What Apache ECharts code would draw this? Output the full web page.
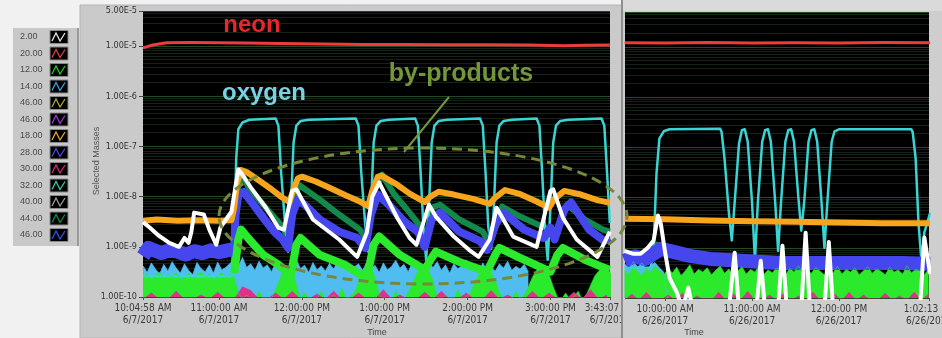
<!DOCTYPE html>
<html><head><meta charset="utf-8">
<script src="https://cdn.jsdelivr.net/npm/echarts@6/dist/echarts.min.js"></script>
<style>html,body{margin:0;padding:0;background:#f1f1f1;}#c{width:942px;height:338px;}</style>
</head><body><div id="c"></div>
<script>
// ---------------- data ----------------
const legendLabels = ["2.00","20.00","12.00","14.00","46.00","46.00","18.00","28.00","30.00","32.00","40.00","44.00","46.00"];
const legendColors = ["#e6e6e6","#e03a3a","#22cc22","#3aa0e6","#a8a832","#9a3ad6","#e6a326","#4848d8","#d8287a","#34c8a8","#9a9a9a","#138a4c","#2458e6"];

const leftStart = "10:04:58", leftEnd = "15:43:07", leftDate = "6/7/2017";
const rightStart = "9:32:15", rightEnd = "13:02:13", rightDate = "6/26/2017";
const leftTicks = [leftStart, "11:00:00", "12:00:00", "13:00:00", "14:00:00", "15:00:00", leftEnd];
const rightTicks = ["10:00:00", "11:00:00", "12:00:00", rightEnd];
const yTicks = [1e-10, 1e-9, 1e-8, 1e-7, 1e-6, 1e-5, 5e-5];

// left panel (6/7/2017)
const neonL = [["10:05",9.2e-6],["10:12",1.05e-5],["10:22",1.17e-5],["10:40",1.18e-5],["11:00",1.17e-5],["11:20",1.15e-5],["11:45",1.12e-5],["12:15",1.1e-5],["12:45",1.08e-5],["13:15",1.07e-5],["13:45",1.06e-5],["14:15",1.06e-5],["14:45",1.05e-5],["15:10",1.02e-5],["15:25",1.04e-5],["15:43",1.05e-5]];
const oxygenL = [["10:05",2.6e-10],["11:09",2.6e-10],["11:11",2e-9],["11:12:30",6e-8],["11:14",2.2e-7],["11:17",3e-7],["11:22",3.4e-7],["11:41",3.6e-7],["11:43",2.6e-7],["11:45",3e-8],["11:48",2.5e-9],["11:50",8e-10],
 ["11:52",6e-9],["11:54",1.2e-7],["11:56",2.6e-7],["11:59",3.2e-7],["12:05",3.4e-7],["12:39",3.6e-7],["12:41",2.6e-7],["12:43",3e-8],["12:46",2.5e-9],["12:48",8e-10],
 ["12:50",6e-9],["12:52",1.2e-7],["12:54",2.6e-7],["12:57",3.2e-7],["13:03",3.4e-7],["13:22",3.6e-7],["13:24",2.6e-7],["13:26",3e-8],["13:28",2.5e-9],["13:30",5.5e-10],
 ["13:32",6e-9],["13:34",1.2e-7],["13:36",2.6e-7],["13:39",3.2e-7],["13:45",3.4e-7],["14:09",3.6e-7],["14:11",2.6e-7],["14:13",3e-8],["14:15",2.5e-9],["14:17",9e-10],
 ["14:19",6e-9],["14:21",1.2e-7],["14:23",2.6e-7],["14:26",3.2e-7],["14:32",3.4e-7],["14:50",3.6e-7],["14:52",2.6e-7],["14:54",3e-8],["14:56",2.5e-9],["14:58",5.5e-10],
 ["15:00",6e-9],["15:02",1.2e-7],["15:04",2.6e-7],["15:07",3.2e-7],["15:13",3.4e-7],["15:37",3.6e-7],["15:39",2.6e-7],["15:41",3e-8],["15:43",3e-9]];
const orangeL = [["10:05",3.3e-9],["10:15",3.5e-9],["10:30",3.3e-9],["10:45",3.4e-9],["11:00",3.3e-9],["11:09",3.4e-9],["11:11",6e-9],["11:13",1.8e-8],["11:16",3.4e-8],["11:20",3.1e-8],["11:28",2.2e-8],["11:38",1.4e-8],["11:46",9.5e-9],["11:51",7.8e-9],["11:54",1.4e-8],["11:57",2.3e-8],["12:00",2.5e-8],["12:10",2e-8],["12:20",1.5e-8],["12:32",1.05e-8],["12:42",8e-9],["12:48",6.5e-9],["12:51",1.3e-8],["12:55",2.5e-8],["12:58",2.6e-8],["13:08",1.8e-8],["13:18",1.15e-8],["13:29",7.8e-9],["13:33",1e-8],["13:39",1.25e-8],["13:50",1.1e-8],["14:04",9e-9],["14:16",7.2e-9],["14:20",9.5e-9],["14:27",1.35e-8],["14:37",1.15e-8],["14:50",8e-9],["14:59",6e-9],["15:03",9e-9],["15:10",1.3e-8],["15:22",1.1e-8],["15:34",8.5e-9],["15:43",7.5e-9]];
const whiteL = [["10:05",3.1e-9],["10:10",2.4e-9],["10:16",1.7e-9],["10:24",1.2e-9],["10:31",1e-9],["10:35",1.5e-9],["10:38",1.2e-9],["10:40",2e-9],["10:42",4.8e-9],["10:49",4.4e-9],["10:53",2.2e-9],["10:58",1.1e-9],["11:01",2.4e-9],["11:05",3.5e-9],["11:09",5e-9],["11:11",1.1e-8],["11:14",3.5e-8],["11:17",2.7e-8],["11:24",1.4e-8],["11:34",6e-9],["11:43",2.4e-9],["11:47",2.2e-9],["11:53",1.3e-8],["11:56",1.4e-8],["12:08",3.5e-9],["12:27",1.4e-9],["12:40",6.3e-10],["12:47",1.9e-9],["12:51",1e-8],["12:56",1.9e-8],["13:09",3.8e-9],["13:18",1.5e-9],["13:23",1.1e-9],["13:32",6.9e-9],["13:37",4e-9],["13:50",1.6e-9],["14:01",8.7e-10],["14:08",6.3e-10],["14:16",1.4e-9],["14:21",6e-9],["14:33",1.6e-9],["14:50",1e-9],["15:00",1.3e-8],["15:02",1.4e-8],["15:09",3.8e-9],["15:19",1.4e-9],["15:34",6.3e-10],["15:43",2e-9]];
const bluePreL = [["10:05",6.5e-10],["10:09",9.5e-10],["10:13",8.5e-10],["10:18",7.5e-10],["10:24",8.5e-10],["10:30",8e-10],["10:36",7e-10],["10:42",8.2e-10],["10:48",7.5e-10],["10:54",8.5e-10],["11:00",7.8e-10],["11:06",8.5e-10],["11:11",9e-10]];
const blueL = [["11:11",9e-10],["11:12",4.4e-9],["11:14",1.1e-8],["11:18",1.25e-8],["11:25",6.9e-9],["11:33",3.5e-9],["11:40",2e-9],["11:46",1.4e-9],["11:50",9.5e-10],["11:53",4.4e-9],["11:57",8.7e-9],["12:02",6.9e-9],["12:13",3.5e-9],["12:27",2e-9],["12:40",1.5e-9],["12:46",9.5e-10],["12:50",4.4e-9],["12:55",1.1e-8],["13:03",6.9e-9],["13:14",3.2e-9],["13:24",2e-9],["13:29",1e-9],["13:34",3.5e-9],["13:40",4.8e-9],["13:54",2e-9],["14:09",1.3e-9],["14:14",8.7e-10],["14:20",2.75e-9],["14:26",4.8e-9],["14:41",2.2e-9],["14:55",1.5e-9],["15:00",2.4e-9],["15:03",1.4e-9],["15:10",5.5e-9],["15:15",7.6e-9],["15:28",2.2e-9],["15:39",1.3e-9],["15:43",1.5e-9]];
const darkGreenL = [["11:11",2.2e-9],["11:14",1.7e-8],["11:17",2.75e-8],["11:21",1.6e-8],["11:32",6.9e-9],["11:46",2.5e-9],["11:50",1.5e-9],["11:54",8.7e-9],["11:58",1.7e-8],["12:13",8.7e-9],["12:27",4.4e-9],["12:42",2.2e-9],["12:47",1.4e-9],["12:53",1.4e-8],["12:58",2.75e-8],["13:07",1.1e-8],["13:18",4.8e-9],["13:25",2.75e-9],["13:30",1.4e-9],["13:34",6e-9],["13:40",6.9e-9],["13:54",3.5e-9],["14:11",2e-9],["14:16",1.1e-9],["14:25",6.3e-9],["14:38",4e-9],["14:59",2.2e-9],["15:03",1.4e-9],["15:12",6.9e-9],["15:25",3.5e-9],["15:38",2.2e-9],["15:43",2e-9]];
const greenL = [["11:11",3e-10],["11:12",4.8e-10],["11:14",1.4e-9],["11:16",2.2e-9],["11:21",1.5e-9],["11:32",6.9e-10],["11:43",4.4e-10],["11:52",2.75e-10],["11:56",1.1e-9],["11:59",1.5e-9],["12:13",6.9e-10],["12:31",4.4e-10],["12:47",2.3e-10],["12:52",1.1e-9],["12:56",1.6e-9],["13:11",6.9e-10],["13:29",3.5e-10],["13:34",6e-10],["13:37",8e-10],["13:54",5e-10],["14:14",3.2e-10],["14:20",6.9e-10],["14:23",9.5e-10],["14:38",6e-10],["15:00",3.2e-10],["15:05",6.9e-10],["15:09",9.5e-10],["15:25",5.5e-10],["15:39",3.8e-10],["15:43",3.5e-10]];
// noise bands, sampled every few minutes (units of 1e-10)
const noiseUnit = 1e-10;
const lightBlueL = {start:"10:05", step:3, v:[4.2,3.1,4.8,3.6,2.9,4.5,3.3,5.1,3.8,3.0, 4.6,3.4,2.8,4.9,3.7,3.2,4.4,3.0,5.0,3.5, 3.9,4.7,
 5.8,4.1,6.2,3.9,4.6,3.4,5.2,3.8,4.4,3.2, 4.8,3.6,4.1,3.0,4.5,5.6,3.7,4.3,3.1,4.9, 3.5,4.2,3.3,4.7,3.6,5.3,3.9,4.4,3.2,4.0,
 4.6,3.4,5.0,3.7,4.3,3.1,4.8,3.5,4.1,5.4, 3.8,4.5,3.2,4.9,3.6,4.2,3.3,4.7,3.9,5.1, 3.4,4.4,3.0,4.6,3.7,4.2,5.5,3.6,4.3,3.2,
 4.8,3.5,4.0,3.3,4.6,3.8,5.2,3.4,4.1,3.6, 4.5,3.2]};
const greenAreaL = {start:"10:05", step:3, v:[2.4,2.9,2.2,2.7,3.1,2.3,2.8,2.5,3.0,2.2,2.6,2.9,2.3,2.7,3.2,2.4,2.8,2.2,2.6,3.0,2.5,2.8,2.4,
 1.2,0.9,1.1,0.9,0.9,1.3,0.9,1.0,0.9,1.4, 2.2,3.5,4.2,3.1,1.8,0.9,1.2,0.9,1.0,0.9, 1.3,0.9,0.9,1.1,0.9,1.5,0.9,1.0,1.2,2.0,
 3.3,4.5,3.8,2.4,1.1,0.9,1.0,0.9,1.3,0.9, 0.9,1.2,1.8,2.9,3.9,4.4,3.2,2.1,1.0,0.9, 1.1,0.9,0.9,1.4,0.9,1.0,1.2,1.9,2.8,3.6,
 4.1,3.0,2.2,1.2,0.9,1.0,0.9,1.3,0.9,1.1, 1.6,2.5,3.4,4.3,3.9,2.8,1.6,1.0,0.9,1.2, 0.9,1.0,1.3,0.9,1.1,1.7,2.6,3.3,4.0,3.6,2.9]};
const magentaL = {start:"10:05", step:6, v:[0.9,1.2,0.9,0.9,1.3,0.9,0.9,1.1,0.9,1.25, 0.9,0.9,1.6,1.35,0.9,0.9,1.2,0.9,1.3,0.9, 0.9,1.15,0.9,1.3,0.9,0.9,1.2,0.9,0.9,1.4,
 0.9,1.1,0.9,0.9,1.25,0.9,1.3,0.9,0.9,1.2, 0.9,0.9,1.35,0.9,1.1,0.9,0.9,1.3,0.9,1.2, 0.9,0.9,1.25,0.9,1.4,0.9,1.1]};

// right panel (6/26/2017)
const neonR = [["9:32",1.22e-5],["10:00",1.2e-5],["10:30",1.24e-5],["11:00",1.2e-5],["11:30",1.22e-5],["12:00",1.21e-5],["12:30",1.23e-5],["13:03",1.22e-5]];
const orangeR = [["9:32",3.8e-9],["10:00",3.7e-9],["10:30",3.5e-9],["11:00",3.4e-9],["11:30",3.3e-9],["12:00",3.2e-9],["12:30",3.1e-9],["13:03",3.1e-9]];
const oxygenR = [["9:32",4e-10],["9:50",4e-10],["9:52",1e-9],["9:54",3e-8],["9:56",1.5e-7],["9:59",2.1e-7],["10:03",2.3e-7],["10:38",2.35e-7],["10:39",2e-7],["10:41",6e-8],["10:44",5e-9],["10:46",1.4e-9],
 ["10:48",8e-9],["10:51",1.2e-7],["10:53",2.2e-7],["10:55",2.3e-7],["10:57",1.3e-7],["11:00",8e-9],["11:02",5.5e-10],
 ["11:04",8e-9],["11:07",1.3e-7],["11:09",2.2e-7],["11:11",2.3e-7],["11:13",1.3e-7],["11:16",8e-9],["11:18",8.7e-10],
 ["11:20",8e-9],["11:23",1.3e-7],["11:25",2.2e-7],["11:27",2.3e-7],["11:29",1.3e-7],["11:32",1e-8],["11:34",2.2e-9],
 ["11:36",8e-9],["11:39",1.3e-7],["11:41",2.2e-7],["11:43",2.3e-7],["11:45",1.3e-7],["11:48",8e-9],["11:50",1e-9],
 ["11:52",8e-9],["11:55",1.3e-7],["11:57",2.1e-7],["12:00",2.3e-7],["12:50",2.3e-7],["12:51",2e-7],["12:53",6e-8],["12:55",3e-9],["12:57",5.5e-10],["12:59",2e-9],["13:03",5e-9]];
const whiteR = [["9:32",8.7e-10],["9:38",7.6e-10],["9:43",7.6e-10],["9:48",1e-9],["9:52",1.4e-9],["9:55",4.4e-9],["9:57",3e-9],["10:00",8e-10],["10:03",2.5e-10],["10:08",1.3e-10],["10:12",6e-11],["10:16",1.6e-10],["10:19",6e-11],["10:44",6e-11],["10:48",8e-10],["10:51",6e-11],["11:03",6e-11],["11:06",5.5e-10],["11:09",6e-11],["11:18",6e-11],["11:21",1.1e-9],["11:24",6e-11],["11:34",6e-11],["11:37",2e-9],["11:40",6e-11],["11:50",6e-11],["11:53",1.3e-9],["11:56",6e-11],["12:56",6e-11],["12:59",1.6e-9],["13:03",3e-10]];
const blueR = [["9:32",5.5e-10],["9:39",6.8e-10],["9:46",6e-10],["9:53",8e-10],["9:57",9.5e-10],["10:03",8.7e-10],["10:17",6.9e-10],["10:31",6e-10],["10:52",5.5e-10],["11:20",5e-10],["12:00",5e-10],["12:43",5e-10],["13:03",4.8e-10]];
const darkGreenR = [["9:50",1.2e-9],["9:58",1.15e-9],["10:05",1e-9],["10:15",8e-10],["10:25",6.5e-10]];
const greenAreaR = {start:"9:32", step:3, v:[3.6,2.9,4.2,3.3,2.8,3.9,3.1,4.4,3.4,2.9, 3.8,3.2,4.1,2.8,3.5,4.6,3.0,3.7,3.3,4.0, 2.9,3.6,4.3,3.1,3.8,2.8,3.4,4.2,3.0,3.7,
 3.3,4.5,2.9,3.6,3.2,4.0,3.5,2.8,3.9,3.3, 4.4,3.0,3.6,3.1,4.1,3.4,2.9,3.8,3.2,4.3, 3.0,3.7,3.3,4.0,2.9,3.5,4.2,3.1,3.8,3.4, 2.9,4.1,3.3,3.6,3.0,4.4,3.2,3.7,3.5,2.9,3.8]};
const lightBlueR = {start:"9:32", step:3, v:[4.8,3.9,5.3,4.2,5.0,3.7,4.5,5.1,4.0,3.3,0.9]};
const magentaR = {start:"9:32", step:5, v:[0.9,1.2,0.9,1.3,0.9,0.9,1.15,0.9,1.25,0.9, 1.1,0.9,0.9,1.3,0.9,1.2,0.9,1.35,0.9,0.9, 1.15,0.9,1.25,0.9,1.1,0.9,1.3,0.9,0.9,1.2, 0.9,1.3,0.9,1.15,0.9,0.9,1.25,0.9,1.1,0.9, 1.3,0.9,1.2]};

// ---------------- helpers ----------------
function sec(t){const p=t.split(":").map(Number);return p[0]*3600+p[1]*60+(p[2]||0);}
function pad(n){return (n<10?"0":"")+n;}
function fmtTime(s,date){s=Math.round(s);const h=Math.floor(s/3600),m=Math.floor(s%3600/60),ss=s%60;let h12=h%12;if(h12===0)h12=12;return h12+":"+pad(m)+":"+pad(ss)+" "+(h>=12?"PM":"AM")+"\n"+date;}
function pairs(list){return list.map(p=>[sec(p[0]),p[1]]);}
function sampled(o){const s0=sec(o.start);return o.v.map((v,i)=>[s0+i*o.step*60, v*noiseUnit]);}
function line(idx,data,color,width,extra){return Object.assign({type:'line',xAxisIndex:idx,yAxisIndex:idx,data:data,symbol:'none',showSymbol:false,clip:true,silent:true,animation:false,
  lineStyle:{color:color,width:width,join:'round'},itemStyle:{color:color}},extra||{});}
function area(idx,data,color){return line(idx,data,color,0.6,{areaStyle:{color:color,opacity:1,origin:'start'}});}

const NARROW = '"Liberation Sans Narrow","Arial Narrow","DejaVu Sans Condensed",sans-serif';
const SANS = '"Liberation Sans",Arial,sans-serif';

function xAxisDef(idx,start,end,ticks,date,z){
  const vals = ticks.map(sec);
  return {type:'value',gridIndex:idx,min:sec(start),max:sec(end),z:z,
    splitLine:{show:false},axisLine:{show:false},
    axisTick:{show:true,length:3,customValues:vals,lineStyle:{color:'#555'}},
    axisLabel:{customValues:vals,formatter:v=>fmtTime(v,date),fontSize:10,fontFamily:NARROW,color:'#3a3a3a',lineHeight:12,margin:5}};
}
function yAxisDef(idx,showLabels){
  return {type:'log',logBase:10,gridIndex:idx,min:1e-10,max:5e-5,
    axisLine:{show:false},
    axisTick:{show:showLabels,length:4,customValues:yTicks,lineStyle:{color:'#444'}},
    axisLabel:{show:showLabels,customValues:yTicks,formatter:v=>Number(v).toExponential(2).toUpperCase(),fontSize:9,fontFamily:NARROW,color:'#333',margin:6},
    splitLine:{show:true,lineStyle:{color:'#264a26',width:1}},
    minorTick:{show:false,splitNumber:10},
    minorSplitLine:{show:true,lineStyle:{color:'#152215',width:1}}};
}

// ---------------- graphics ----------------
const graphics = [
  {type:'rect',z:-5,shape:{x:80,y:5,width:543,height:333},style:{fill:'#cacaca',stroke:'#b4b4b4',lineWidth:1}},
  {type:'rect',z:-5,shape:{x:623,y:0,width:319,height:338},style:{fill:'#cecece'}},
  {type:'rect',z:-5,shape:{x:623,y:0,width:319,height:11},style:{fill:'#dadada'}},
  {type:'rect',z:1,shape:{x:623,y:299,width:319,height:39},style:{fill:'#cecece'}},
  {type:'rect',z:1,shape:{x:621,y:0,width:2,height:338},style:{fill:'#8e8e8e'}},
  {type:'rect',z:-5,shape:{x:13,y:28,width:65,height:218},style:{fill:'#c8c8c8'}},
  {type:'rect',z:-5,shape:{x:77,y:28,width:2,height:218},style:{fill:'#9a9a9a'}},
  {type:'text',z:3,x:97,y:161,rotation:Math.PI/2,style:{text:'Selected Masses',font:'9px '+SANS,fill:'#555',align:'center',verticalAlign:'middle'}},
  {type:'text',z:3,x:377,y:333,style:{text:'Time',font:'9px '+SANS,fill:'#444',align:'center',verticalAlign:'middle'}},
  {type:'text',z:3,x:694,y:333,style:{text:'Time',font:'9px '+SANS,fill:'#444',align:'center',verticalAlign:'middle'}},
  {type:'text',z:10,x:252,y:25,style:{text:'neon',font:'bold 24px '+SANS,fill:'#e8262b',align:'center',verticalAlign:'middle'}},
  {type:'text',z:10,x:264,y:93,style:{text:'oxygen',font:'bold 24px '+SANS,fill:'#78d2e4',align:'center',verticalAlign:'middle'}},
  {type:'text',z:10,x:461,y:74,style:{text:'by-products',font:'bold 25px '+SANS,fill:'#74963a',align:'center',verticalAlign:'middle'}},
  {type:'line',z:10,shape:{x1:449,y1:97,x2:404,y2:152},style:{stroke:'#74963a',lineWidth:2}},
  {type:'ellipse',z:10,shape:{cx:423,cy:216,rx:204,ry:68},style:{fill:'none',stroke:'#76883a',lineWidth:3,lineDash:[10,6]}}
];
legendLabels.forEach((lab,i)=>{
  const y0 = 37 + i*16.5;
  graphics.push({type:'text',z:2,x:20,y:y0,style:{text:lab,font:'9px '+SANS,fill:'#4a4a4a',verticalAlign:'middle'}});
  graphics.push({type:'rect',z:2,shape:{x:50,y:y0-6.5,width:18,height:13},style:{fill:'#000',stroke:'#8a8a8a',lineWidth:1}});
  graphics.push({type:'polyline',z:3,shape:{points:[[52,y0+4],[56,y0-4],[60,y0+4],[65,y0-4]]},style:{stroke:legendColors[i],lineWidth:1.3,fill:'none'}});
});

// ---------------- series ----------------
const C = {white:'#ffffff',red:'#ee3b3b',green:'#2bea2b',lblue:'#4fbdf0',orange:'#f7a51c',blue:'#4646ee',magenta:'#e0308a',cyan:'#3ad4d4',dgreen:'#13894c'};
const series = [
  // left
  line(0,pairs(darkGreenL),C.dgreen,6),
  line(0,pairs(oxygenL),C.cyan,2.5),
  line(0,pairs(bluePreL),C.blue,14),
  line(0,pairs(blueL),C.blue,8),
  line(0,pairs(orangeL),C.orange,6),
  area(0,sampled(lightBlueL),C.lblue),
  area(0,sampled(greenAreaL),C.green),
  area(0,sampled(magentaL),C.magenta),
  line(0,pairs(greenL),C.green,8),
  line(0,pairs(neonL),C.red,3),
  line(0,pairs(whiteL),C.white,4),
  // right
  line(1,pairs(darkGreenR),C.dgreen,5),
  line(1,pairs(oxygenR),C.cyan,2.5),
  line(1,pairs(blueR),C.blue,14),
  line(1,pairs(orangeR),C.orange,6),
  area(1,sampled(lightBlueR),C.lblue),
  area(1,sampled(greenAreaR),C.green),
  area(1,sampled(magentaR),C.magenta),
  line(1,pairs(neonR),C.red,3),
  line(1,pairs(whiteR),C.white,4)
];

const chart = echarts.init(document.getElementById('c'),null,{renderer:'canvas'});
chart.setOption({
  animation:false,
  backgroundColor:'#f1f1f1',
  grid:[
    {left:143,top:11,width:467,height:286,show:true,backgroundColor:'#000',borderWidth:0,containLabel:false,outerBoundsMode:'none'},
    {left:625,top:12,width:304,height:286,show:true,backgroundColor:'#000',borderWidth:0,containLabel:false,outerBoundsMode:'none'}
  ],
  xAxis:[xAxisDef(0,leftStart,leftEnd,leftTicks,leftDate,0), xAxisDef(1,rightStart,rightEnd,rightTicks,rightDate,2)],
  yAxis:[yAxisDef(0,true), yAxisDef(1,false)],
  graphic:{elements:graphics},
  series:series
});
</script>
</body></html>
